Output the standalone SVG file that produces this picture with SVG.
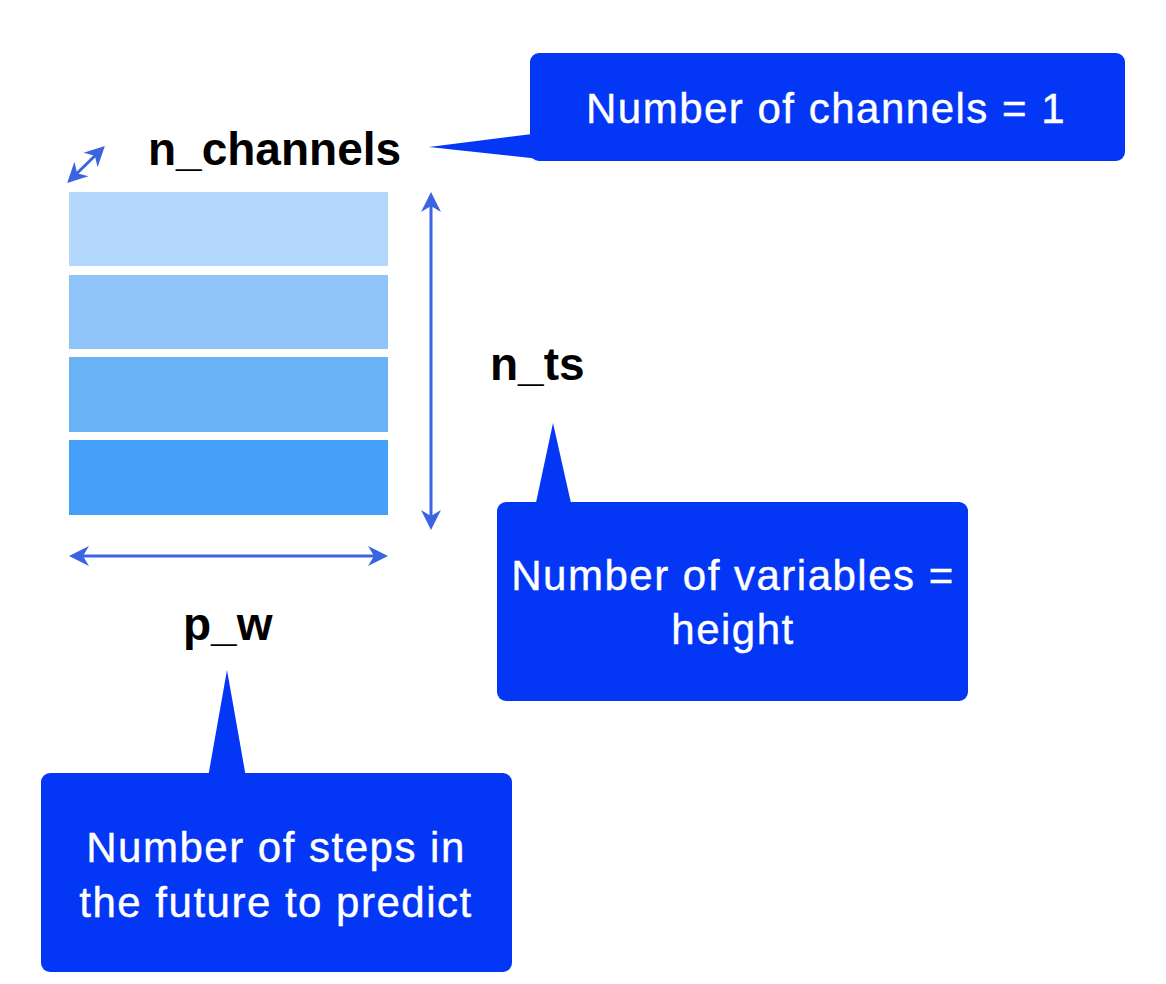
<svg xmlns="http://www.w3.org/2000/svg" width="1166" height="984" viewBox="0 0 1166 984">
<style>
.lbl{font-family:"Liberation Sans",Arial,sans-serif;font-weight:bold;font-size:46px;fill:#000}
.ct{font-family:"Liberation Sans",Arial,sans-serif;font-size:42px;fill:#fff;stroke:#fff;stroke-width:0.4;letter-spacing:1.5px;text-anchor:middle}
.co{fill:#0437F5}
.dim{stroke:#3A64E0;stroke-width:3;fill:none;marker-start:url(#ah);marker-end:url(#ah)}
</style>
<defs>
<marker id="ah" markerUnits="userSpaceOnUse" markerWidth="22" markerHeight="22" refX="9" refY="11" orient="auto-start-reverse" viewBox="0 0 22 22">
<path d="M0,1 L20,11 L0,21 L6,11 Z" fill="#3A64E0"/>
</marker>
</defs>
<rect width="1166" height="984" fill="#fff"/>
<g id="matrix">
<rect x="69" y="192" width="319" height="74" fill="#B4D8FB"/>
<rect x="69" y="275" width="319" height="74" fill="#8FC4F9"/>
<rect x="69" y="357" width="319" height="75" fill="#6AB3F7"/>
<rect x="69" y="440" width="319" height="75" fill="#44A0F8"/>
</g>
<g id="labels">
<text class="lbl" x="148" y="165">n_channels</text>
<text class="lbl" x="490" y="380">n_ts</text>
<text class="lbl" x="183" y="640">p_w</text>
</g>
<g id="connectors">
<line class="dim" x1="75" y1="175.3" x2="97" y2="153.7"/>
<line class="dim" x1="431" y1="203" x2="431" y2="519"/>
<line class="dim" x1="80" y1="556" x2="377" y2="556"/>
</g>
<g id="callout-channels">
<polygon class="co" points="429,147 540,133 540,159"/>
<rect class="co" x="530" y="53" width="595" height="108" rx="9"/>
<text class="ct" x="826" y="123">Number of channels = 1</text>
</g>
<g id="callout-variables">
<polygon class="co" points="553,423 534,512 573,512"/>
<rect class="co" x="497" y="502" width="471" height="199" rx="9"/>
<text class="ct" x="733" y="590">Number of variables =</text>
<text class="ct" x="733" y="644">height</text>
</g>
<g id="callout-steps">
<polygon class="co" points="227,670 207,783 247,783"/>
<rect class="co" x="41" y="773" width="471" height="199" rx="9"/>
<text class="ct" x="276" y="862">Number of steps in</text>
<text class="ct" x="276" y="917">the future to predict</text>
</g>
</svg>
